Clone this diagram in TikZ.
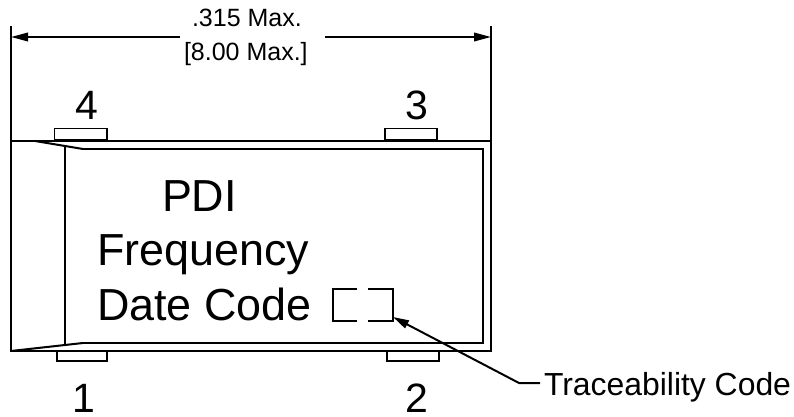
\documentclass[tikz,border=0pt]{standalone}
\usepackage{fontspec}
\setmainfont{Liberation Sans}
\usetikzlibrary{arrows.meta}
\tikzset{
 px/.style={x=1pt,y=-1pt},
 heavy/.style={line width=2pt,black,line join=miter},
 pad/.style={line width=1.8pt,black,fill=white},
 txt/.style={anchor=base west,inner sep=0pt,outer sep=0pt,text=black},
 big/.style={txt,font=\fontsize{44.9}{44.9}\selectfont},
 pin/.style={txt,font=\fontsize{41}{41}\selectfont},
 dimt/.style={txt,font=\fontsize{25}{25}\selectfont},
 call/.style={txt,font=\fontsize{31.9}{31.9}\selectfont},
 dimtip/.style={-{Triangle[length=17pt,width=8.5pt]}},
 calltip/.style={-{Triangle[length=16pt,width=8.5pt]}}
}
\begin{document}
\begin{tikzpicture}[px]
\useasboundingbox (0,0) rectangle (794,417);
% pads
\draw[pad] (54.5,128.5) rectangle (107,140);
\draw[pad] (385,128.5) rectangle (437,140);
\draw[pad] (57,351) rectangle (107,361);
\draw[pad] (387,351) rectangle (439,361);
% extension lines and body
\draw[heavy] (11,26) -- (11,351) -- (491,351) -- (491,26);
\draw[heavy] (11,141) -- (491,141);
\draw[heavy] (83,149) -- (483,149) -- (483,343) -- (83,343);
\draw[heavy] (65,146) -- (65,345);
\draw[heavy] (35,141) -- (83,149);
\draw[heavy] (11,351) -- (83,343);
% dimension
\coordinate (dl) at (11,37);
\coordinate (dr) at (491,37);
\coordinate (da) at (180,37);
\coordinate (db) at (325,37);
\draw[heavy,dimtip] (da) -- (dl);
\draw[heavy,dimtip] (db) -- (dr);
\node[dimt] (d1) at (192,27) {.315 Max.};
\node[dimt] (d2) at (184,60.5) {[8.00 Max.]};
% pin labels
\node[pin] (p4) at (75,119) {4};
\node[pin] (p3) at (405,119) {3};
\node[pin] (p1) at (72,412) {1};
\node[pin] (p2) at (405,412) {2};
% marking
\node[big] (m1) at (162,211) {PDI};
\node[big] (m2) at (97,265) {Frequency};
\node[big] (m3) at (97,320) {Date Code};
% dashed box
\draw[heavy] (357,289) -- (332.7,289) -- (332.7,320.7) -- (357,320.7);
\draw[heavy] (368,289) -- (392.7,289) -- (392.7,320.7) -- (368,320.7);
% callout
\coordinate (tip) at (393,317);
\coordinate (bend) at (519,383);
\node[call] (tc) at (544,395) {Traceability Code};
\draw[heavy,calltip] (tc.base west |- bend) ++(-4,0) -- (bend) -- (tip);
\end{tikzpicture}
\end{document}
